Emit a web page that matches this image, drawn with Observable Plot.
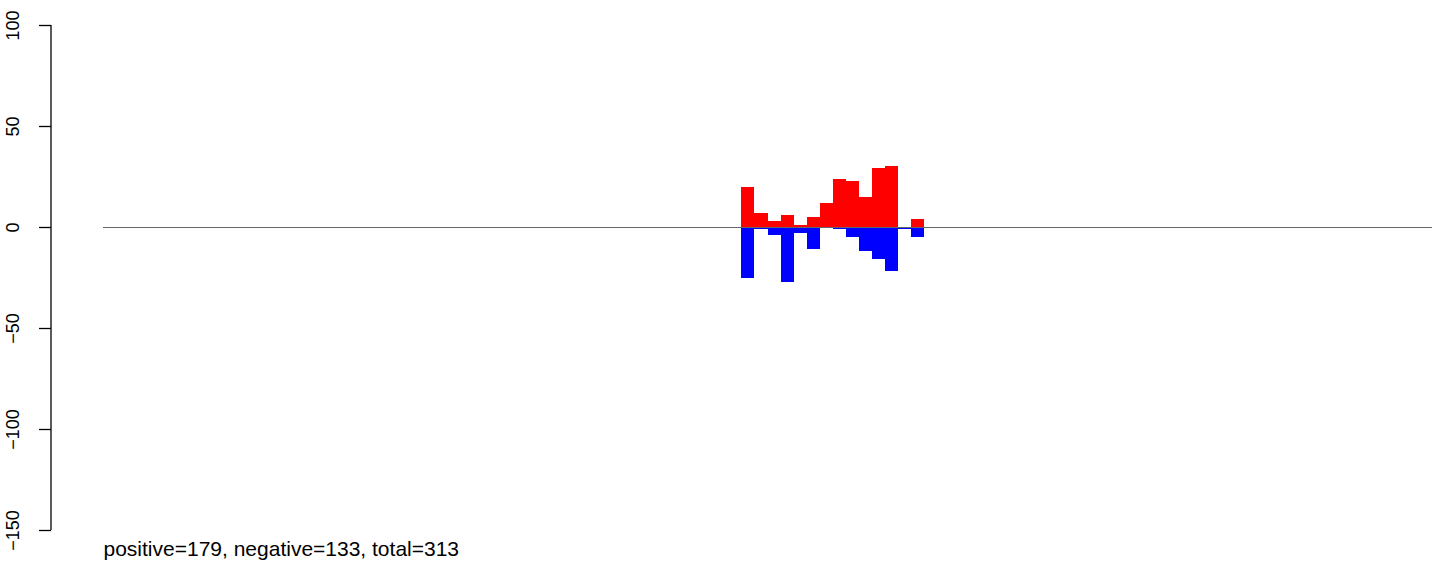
<!DOCTYPE html>
<html>
<head>
<meta charset="utf-8">
<script src="https://cdn.jsdelivr.net/npm/d3@7"></script>
<script src="https://cdn.jsdelivr.net/npm/@observablehq/plot@0.6"></script>
<style>
  html, body { margin: 0; padding: 0; background: #fff; }
  svg { display: block; }
</style>
</head>
<body>
<div id="chart"></div>
<script>
// bin indices (the occupied bins of the window)
const bins = [49, 50, 51, 52, 53, 54, 55, 56, 57, 58, 59, 60, 61, 62];
const positive = [20, 7, 3, 6, 1, 5, 12, 24, 23, 15, 29, 30, 0, 4];
const negative = [-25, -1, -4, -27, -3, -11, 0, -1, -5, -12, -16, -22, -1, -5];
const xDomain = [0, 102];
const yDomain = [-150, 100];
const yTicks = [-150, -100, -50, 0, 50, 100];
const footnote = "positive=179, negative=133, total=313";

const rows = bins.map((b, k) => ({x1: b, x2: b + 1, pos: positive[k], neg: negative[k]}));
const font = "'Liberation Sans', Arial, Helvetica, sans-serif";

// vertical axis line drawn from the y scale's extent at the left margin
function axisLine(index, scales, values, dimensions) {
  const g = document.createElementNS("http://www.w3.org/2000/svg", "line");
  const x = dimensions.marginLeft;
  g.setAttribute("x1", x); g.setAttribute("x2", x);
  g.setAttribute("y1", scales.y(yTicks[yTicks.length - 1]));
  g.setAttribute("y2", scales.y(yTicks[0]));
  g.setAttribute("stroke", "#000");
  g.setAttribute("stroke-width", 1.3);
  return g;
}

const chart = Plot.plot({
  width: 1444,
  height: 566,
  marginTop: 25,
  marginBottom: 36,
  marginLeft: 51,
  marginRight: 12,
  style: {fontFamily: font, fontSize: "18px", color: "#000", background: "#fff"},
  x: {domain: xDomain, range: [103, 1432], axis: null},
  y: {domain: yDomain, axis: null},
  marks: [
    Plot.rect(rows, {x1: "x1", x2: "x2", y1: 0, y2: "pos", fill: "#FF0000", inset: 0, shapeRendering: "crispEdges"}),
    Plot.rect(rows, {x1: "x1", x2: "x2", y1: 0, y2: "neg", fill: "#0000FF", inset: 0, shapeRendering: "crispEdges"}),
    Plot.ruleY([0], {x1: xDomain[0], x2: xDomain[1], stroke: "#666", strokeWidth: 1}),
    axisLine,
    Plot.axisY({ticks: yTicks, tickSize: 12, tickFormat: () => "", stroke: "#000", strokeWidth: 1.3}),
    Plot.text(yTicks, {y: d => d, frameAnchor: "left", dx: -38, rotate: -90, text: d => d < 0 ? "\u2212" + Math.abs(d) : String(d), textAnchor: "middle", lineAnchor: "middle", fontSize: 18, fill: "#000"}),
    Plot.text([footnote], {x: xDomain[0], frameAnchor: "bottom", dy: 19, text: d => d, textAnchor: "start", lineAnchor: "middle", fontSize: 21, fill: "#000"})
  ]
});
document.getElementById("chart").appendChild(chart);
</script>
</body>
</html>
